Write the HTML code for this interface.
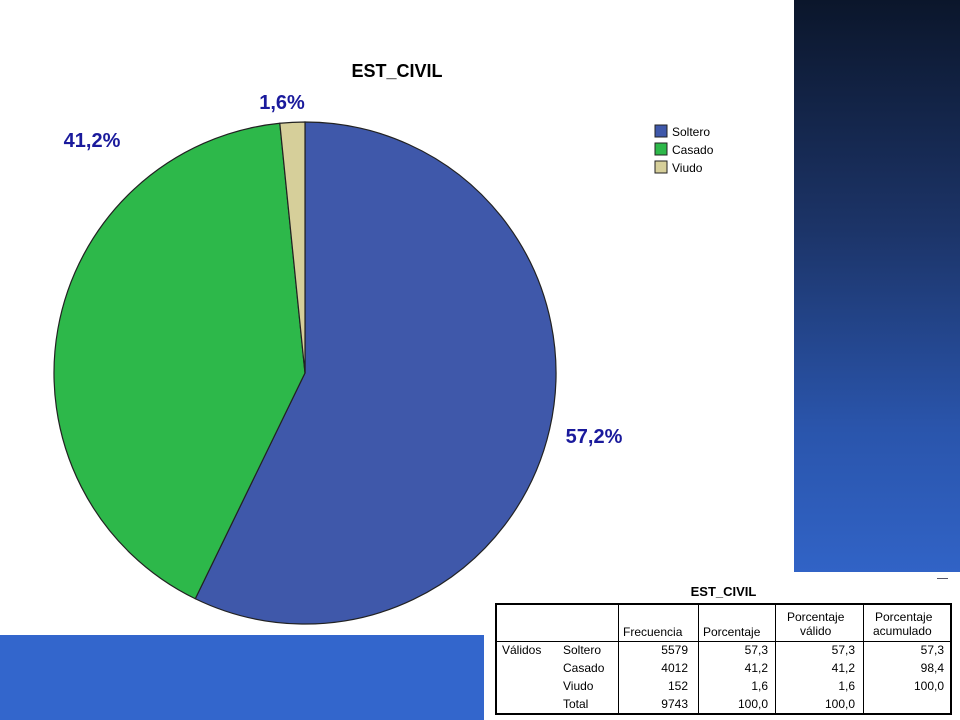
<!DOCTYPE html>
<html><head><meta charset="utf-8"><style>
body{margin:0;width:960px;height:720px;position:relative;background:#fff;font-family:"Liberation Sans",sans-serif;overflow:hidden}
.abs{position:absolute}
.tbl{position:absolute;left:495px;top:603px;width:457px;height:112px;border:2px solid #000;box-sizing:border-box;font-size:12px;color:#000}
.tbl span{position:absolute;white-space:nowrap}
</style></head><body>
<div class="abs" style="left:794px;top:0;width:166px;height:572px;background:linear-gradient(#0b162b,#1c3468 40%,#2a55ac 75%,#3163c6)"></div>
<div class="abs" style="left:0;top:635px;width:484px;height:85px;background:#3366cc"></div>
<div class="abs" style="left:937px;top:578px;width:11px;height:1px;background:#556"></div>

<svg class="abs" style="left:0;top:0" width="794" height="640">
<text x="397" y="77" text-anchor="middle" font-size="18" font-weight="bold" font-family="Liberation Sans">EST_CIVIL</text>
<g id="slices"></g>
<g id="labels"></g>
<g font-size="12" font-family="Liberation Sans">
<rect x="655" y="125" width="12" height="12" fill="#3f58aa" stroke="#222"/><text x="672" y="136">Soltero</text>
<rect x="655" y="143" width="12" height="12" fill="#2db84a" stroke="#222"/><text x="672" y="154">Casado</text>
<rect x="655" y="161" width="12" height="12" fill="#d6cf9a" stroke="#222"/><text x="672" y="172">Viudo</text>
</g>
</svg>

<div class="abs" style="left:495px;top:584px;width:457px;text-align:center;font-size:13px;font-weight:bold">EST_CIVIL</div>
<div class="tbl">
<div class="abs" style="left:121px;top:0;width:1px;height:108px;background:#000"></div>
<div class="abs" style="left:201px;top:0;width:1px;height:108px;background:#000"></div>
<div class="abs" style="left:278px;top:0;width:1px;height:108px;background:#000"></div>
<div class="abs" style="left:366px;top:0;width:1px;height:108px;background:#000"></div>
<div class="abs" style="left:0;top:36px;width:453px;height:1px;background:#000"></div>
<span style="left:126px;top:20px">Frecuencia</span><span style="left:206px;top:20px">Porcentaje</span>
<span style="left:290px;top:5px">Porcentaje</span><span style="left:303px;top:19px">válido</span>
<span style="left:378px;top:5px">Porcentaje</span><span style="left:376px;top:19px">acumulado</span>
<span style="left:5px;top:38px">Válidos</span>
<span style="left:66px;top:38px">Soltero</span><span style="left:66px;top:56px">Casado</span><span style="left:66px;top:74px">Viudo</span><span style="left:66px;top:92px">Total</span>
<span style="right:262px;top:38px">5579</span><span style="right:262px;top:56px">4012</span><span style="right:262px;top:74px">152</span><span style="right:262px;top:92px">9743</span>
<span style="right:182px;top:38px">57,3</span><span style="right:182px;top:56px">41,2</span><span style="right:182px;top:74px">1,6</span><span style="right:182px;top:92px">100,0</span>
<span style="right:95px;top:38px">57,3</span><span style="right:95px;top:56px">41,2</span><span style="right:95px;top:74px">1,6</span><span style="right:95px;top:92px">100,0</span>
<span style="right:6px;top:38px">57,3</span><span style="right:6px;top:56px">98,4</span><span style="right:6px;top:74px">100,0</span>
</div>

<script>
const categories=['Soltero','Casado','Viudo'];
const values=[57.2,41.2,1.6];
const valueLabels=['57,2%','41,2%','1,6%'];
const colors=['#3f58aa','#2db84a','#d6cf9a'];
const cx=305,cy=373,r=251;
const NS='http://www.w3.org/2000/svg';
const total=values.reduce((a,b)=>a+b,0);
const gS=document.getElementById('slices'),gL=document.getElementById('labels');
function pt(a,rr){return [cx+rr*Math.sin(a),cy-rr*Math.cos(a)];}
let acc=0;
values.forEach((v,i)=>{
 const a0=acc/total*2*Math.PI;acc+=v;const a1=acc/total*2*Math.PI;
 const p0=pt(a0,r),p1=pt(a1,r);
 const p=document.createElementNS(NS,'path');
 p.setAttribute('d',`M${cx},${cy}L${p0[0]},${p0[1]}A${r},${r} 0 ${a1-a0>Math.PI?1:0} 1 ${p1[0]},${p1[1]}Z`);
 p.setAttribute('fill',colors[i]);p.setAttribute('stroke','#222');p.setAttribute('stroke-width','1.2');
 
 
 gS.appendChild(p);
 const am=(a0+a1)/2;
 let lp=pt(am,r+(v<5?48:70));
 const t=document.createElementNS(NS,'text');
 let lx=lp[0],ly=lp[1];
 if(i===0){lx=cx+r+38;ly=cy+70;}
 if(i===1){lx=92;ly=147;}
 if(i===2){lx=282;ly=109;}
 t.setAttribute('x',lx);t.setAttribute('y',ly);t.setAttribute('text-anchor','middle');
 t.setAttribute('font-size','20');t.setAttribute('font-weight','bold');t.setAttribute('fill','#1a1a9c');
 t.setAttribute('font-family','Liberation Sans');
 t.textContent=valueLabels[i];
 
 
 gL.appendChild(t);
});
</script>
</body></html>
